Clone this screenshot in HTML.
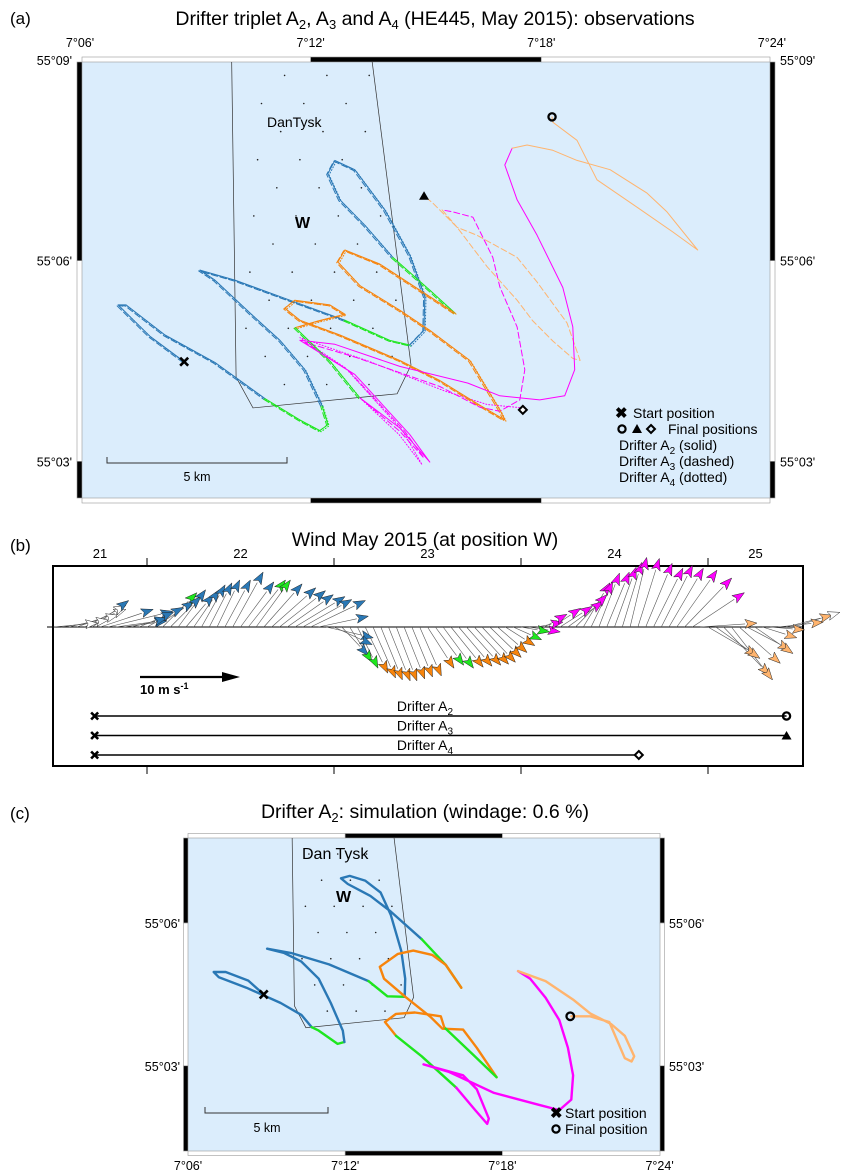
<!DOCTYPE html>
<html><head><meta charset="utf-8"><title>Drifter triplet A2, A3, A4</title>
<style>
html,body{margin:0;padding:0;background:#fff;}
svg{display:block;font-family:"Liberation Sans",Arial,sans-serif;}
</style></head>
<body>
<svg id="fig" xmlns="http://www.w3.org/2000/svg" width="849" height="1173" viewBox="0 0 849 1173">
<defs>
<clipPath id="clipA"><rect x="82" y="62" width="688" height="436"/></clipPath>
<clipPath id="clipC"><rect x="188" y="838" width="472" height="313"/></clipPath>
</defs>

<!-- ================= PANEL A ================= -->
<g id="panelA">
<text x="10" y="24" font-size="17">(a)</text>
<text x="435" y="25" font-size="19.5" text-anchor="middle">Drifter triplet A<tspan font-size="13" dy="4">2</tspan><tspan dy="-4">, A</tspan><tspan font-size="13" dy="4">3</tspan><tspan dy="-4"> and A</tspan><tspan font-size="13" dy="4">4</tspan><tspan dy="-4"> (HE445, May 2015): observations</tspan></text>
<rect x="82" y="62" width="688" height="436" fill="#dbedfc"/>
<g id="frameA"></g>
<g id="polyA" clip-path="url(#clipA)"></g>
<g id="tracksA" clip-path="url(#clipA)"></g>
<g id="markersA"></g>
<text x="267" y="127" font-size="14">DanTysk</text>
<text x="295" y="228" font-size="16" font-weight="bold">W</text>
<g>
<path d="M107 457 V463 H287 V457" fill="none" stroke="#333" stroke-width="1"/>
<text x="197" y="481" font-size="12.5" text-anchor="middle">5 km</text>
</g>
<g font-size="14">
<text x="615" y="418" font-size="15" font-weight="bold">✖</text>
<text x="633" y="418">Start position</text>
<circle cx="622" cy="429" r="3.6" fill="none" stroke="#000" stroke-width="2.2"/>
<path d="M632 433 L637 424 L642 433 Z" fill="#000"/>
<path d="M651 425 L655 429 L651 433 L647 429 Z" fill="none" stroke="#000" stroke-width="2"/>
<text x="668" y="434">Final positions</text>
<text x="619" y="450">Drifter A<tspan font-size="10" dy="4">2</tspan><tspan dy="-4"> (solid)</tspan></text>
<text x="619" y="466">Drifter A<tspan font-size="10" dy="4">3</tspan><tspan dy="-4"> (dashed)</tspan></text>
<text x="619" y="482">Drifter A<tspan font-size="10" dy="4">4</tspan><tspan dy="-4"> (dotted)</tspan></text>
</g>
</g>

<!-- ================= PANEL B ================= -->
<g id="panelB">
<text x="10" y="551" font-size="17">(b)</text>
<text x="425" y="546" font-size="19.5" text-anchor="middle">Wind May 2015 (at position W)</text>
<rect x="53" y="566" width="750" height="200" fill="#fff" stroke="#000" stroke-width="2"/>
<line x1="47" y1="627" x2="803" y2="627" stroke="#000" stroke-width="1"/>
<g id="windAxis" font-size="13"></g>
<g id="windSticks"></g>
<g>
<line x1="140" y1="677" x2="226" y2="677" stroke="#000" stroke-width="2.2"/>
<path d="M222 672 L240 677 L222 682 Z" fill="#000"/>
<text x="140" y="694" font-size="13" font-weight="bold">10 m s<tspan font-size="9" dy="-5">-1</tspan></text>
</g>
<g id="drifterTimes"></g>
</g>

<!-- ================= PANEL C ================= -->
<g id="panelC">
<text x="10" y="819" font-size="17">(c)</text>
<text x="425" y="818" font-size="19.5" text-anchor="middle">Drifter A<tspan font-size="13" dy="4">2</tspan><tspan dy="-4">: simulation (windage: 0.6 %)</tspan></text>
<rect x="188" y="838" width="472" height="313" fill="#dbedfc"/>
<g id="frameC"></g>
<g id="polyC" clip-path="url(#clipC)"></g>
<g id="tracksC" clip-path="url(#clipC)"></g>
<g id="markersC"></g>
<text x="302" y="859" font-size="16">Dan Tysk</text>
<text x="336" y="902" font-size="16" font-weight="bold">W</text>
<g>
<path d="M205 1107 V1113 H328 V1107" fill="none" stroke="#333" stroke-width="1"/>
<text x="267" y="1132" font-size="12.5" text-anchor="middle">5 km</text>
</g>
<g font-size="14">
<text x="550" y="1118" font-size="15" font-weight="bold">✖</text>
<text x="565" y="1118">Start position</text>
<circle cx="556" cy="1129" r="3.6" fill="none" stroke="#000" stroke-width="2.2"/>
<text x="565" y="1134">Final position</text>
</g>
</g>
</svg>

<script>
// ---------------- shared data ----------------
const palette = {b:'#2a78b5', g:'#1ee61e', o:'#f7840c', m:'#ff00ff', l:'#ffb46e', w:'#ffffff'};
const dantyskLon = [9.93,10.06,10.50,14.25,14.61,13.46];
const dantyskLat = [9.6,4.26,3.80,4.01,4.44,9.6];

// ---------------- panel A data (lon/lat minutes) ----------------
const a2Blue1 = [[8.71,4.49],[7.82,4.87],[6.99,5.34],[7.20,5.34],[8.21,4.89],[9.51,4.48],[10.81,3.94]];
const a2Green1 = [[10.81,3.94],[11.72,3.62],[12.24,3.46],[12.45,3.55],[12.29,3.84]];
const a2Blue2 = [[12.29,3.84],[11.85,4.37],[11.20,4.81],[10.42,5.22],[9.51,5.71],[9.12,5.86],[10.03,5.71],[11.46,5.41],[12.89,5.11]];
const a2Green2 = [[12.89,5.11],[14.06,4.81],[14.58,4.74]];
const a2Blue3 = [[14.58,4.74],[14.95,4.96],[14.97,5.46],[14.58,6.08],[13.93,6.76],[13.15,7.36],[12.63,7.50],[12.45,7.30],[12.76,6.91],[13.41,6.53],[14.14,6.05]];
const a2Green3 = [[14.14,6.05],[15.10,5.56],[15.75,5.22]];
const a2Orange = [[15.75,5.22],[14.84,5.56],[13.80,5.95],[12.89,6.16],[12.71,5.98],[13.28,5.63],[14.32,5.26],[15.10,4.96],[16.14,4.51],[16.92,3.77],[17.05,3.62],[16.40,3.84],[15.36,4.21],[14.32,4.51],[12.76,4.89],[11.72,5.11],[11.33,5.29],[11.59,5.41],[12.50,5.34],[12.89,5.20],[12.20,5.10],[11.60,5.00]];
const a2Green4 = [[11.60,5.00],[12.50,4.50],[13.28,3.95]];
const a2Magenta = [[13.28,3.95],[14.32,3.50],[15.10,2.99],[14.58,3.40],[13.15,4.30],[11.72,4.81],[12.63,4.75],[14.32,4.42],[16.09,4.17],[16.92,3.98],[17.96,3.92],[18.61,3.98],[18.87,4.37],[18.82,5.01],[18.56,5.60],[17.89,6.38],[17.37,6.91],[17.05,7.43],[17.24,7.68]];
const a2Light = [[17.24,7.68],[17.63,7.73],[18.30,7.65],[18.93,7.50],[19.79,7.36],[20.75,7.01],[21.27,6.73],[22.07,6.16],[21.42,6.43],[20.49,6.80],[19.45,7.21],[18.93,7.80],[18.30,8.07],[18.28,8.15]];
const a3Magenta = [[13.28,3.95],[14.32,3.45],[14.95,3.05],[14.45,3.45],[13.00,4.35],[11.85,4.78],[13.20,4.55],[15.36,4.12],[16.40,3.81],[16.92,3.75],[17.44,3.92],[17.57,4.37],[17.37,5.01],[16.92,5.61],[16.74,6.05],[16.22,6.65],[15.70,6.73],[15.42,6.76]];
const a3Light = [[15.42,6.76],[15.81,6.50],[16.33,6.38],[17.37,6.05],[17.89,5.68],[18.67,5.07],[19.01,4.51],[18.82,4.54],[18.30,4.80],[17.78,5.10],[17.37,5.41],[16.59,5.91],[15.81,6.50],[15.18,6.86],[14.95,6.97]];
const a4Magenta = [[13.28,3.95],[14.30,3.40],[14.90,2.95],[14.40,3.45],[12.90,4.40],[11.72,4.85],[13.50,4.50],[15.50,4.05],[16.59,3.85],[17.52,3.80]];
const startA = [8.71,4.49];
const finalA2 = [18.28,8.15];
const finalA3 = [14.95,6.97];
const finalA4 = [17.52,3.77];
const lonTicks = [6,12,18,24];
const lonTickLabels = ["7°06'","7°12'","7°18'","7°24'"];
const latTicksA = [9,6,3];
const latTickLabelsA = ["55°09'","55°06'","55°03'"];

// ---------------- panel B data ----------------
const windStartDay = 21.5;
const windU = [4.5,4.8,5.0,5.0,4.2,3.7,5.4,6.6,5.2,4.4,3.6,3.5,3.7,4.0,3.5,3.1,2.8,2.8,2.6,2.4,2.3,2.3,2.6,3.1,3.4,3.8,3.5,3.9,4.5,4.7,4.7,5.1,5.0,5.6,5.1,
 4.8,3.9,2.7,2.3,2.1,2.3,2.3,2.2,2.2,2.1,2.1,2.1,2.2,2.7,2.9,3.1,3.3,3.4,3.5,3.5,3.4,3.2,3.0,3.0,2.9,2.9,
 3.2,2.7,2.3,2.9,3.3,3.6,3.2,2.7,2.2,2.1,2.3,2.2,2.0,1.7,2.2,2.7,3.0,3.2,3.5,4.1,4.8,5.3,
 5.8,5.0,4.5,4.7,4.2,4.2,4.4,3.9,3.5,3.5,4.6,4.7,4.7];
const windV = [0.4,0.7,1.2,1.8,2.2,2.7,1.8,1.6,0.7,0.6,0.9,1.5,2.0,2.6,3.5,3.1,3.8,3.3,3.8,4.3,4.5,4.8,4.8,5.6,4.6,4.8,4.8,4.4,4.0,3.7,3.3,3.1,2.8,2.7,1.1,
 -1.1,-1.8,-2.9,-3.6,-4.2,-4.7,-5.2,-5.4,-5.5,-5.5,-5.3,-5.1,-5.0,-4.2,-3.9,-4.2,-4.1,-4.0,-3.9,-3.8,-3.6,-3.1,-2.6,-1.9,-1.3,-0.5,
 -0.5,0.5,1.3,1.9,2.1,2.6,3.3,4.5,4.6,5.5,5.6,6.1,6.6,7.1,7.0,6.5,6.0,6.3,6.0,5.8,5.0,3.5,
 0.4,-2.9,-3.2,-4.9,-5.4,-3.7,-2.3,-2.7,-1.1,-0.3,0.5,1.2,1.5];
const windPhase = "wwwwwbbbbbbbbbgbbbbbbbbbbggbbbbbbbbbbbggooooooooogg"+"oooooooogg"+"mmmmmmmmmmmmmmmmmmmmmm"+"llllllllllllw";
const dayLabels = ["21","22","23","24","25"];
const dayTicks = [22,23,24,25];
const drifterNames = ["2","3","4"];
const drifterStart = [21.72,21.72,21.72];
const drifterEnd = [25.42,25.42,24.63];
const drifterEndMarker = ["circle","triangle","diamond"];

// ---------------- panel C data ----------------
const cBlue1 = [[8.89,4.50],[8.30,4.79],[7.44,4.97],[6.98,4.97],[7.18,4.86],[8.23,4.64],[9.54,4.32],[10.33,4.07],[10.72,3.81]];
const cGreen1 = [[10.72,3.81],[10.99,3.74],[11.71,3.46],[11.97,3.50]];
const cBlue2 = [[11.97,3.50],[11.91,3.74],[11.45,4.32],[10.99,4.83],[10.33,5.19],[9.67,5.37],[9.02,5.46],[9.94,5.37],[11.38,5.13],[12.89,4.78]];
const cGreen2 = [[12.89,4.78],[13.61,4.46],[14.27,4.45]];
const cBlue3 = [[14.27,4.45],[14.29,4.83],[14.14,5.41],[13.74,6.17],[13.35,6.64],[12.76,6.89],[12.17,6.99],[11.84,6.94],[12.10,6.82],[12.96,6.57],[13.74,6.24],[14.92,5.66]];
const cGreen3 = [[14.92,5.66],[15.84,5.12],[16.43,4.64]];
const cOrange1 = [[16.43,4.64],[15.84,5.12],[15.32,5.33],[14.60,5.42],[14.01,5.35],[13.32,5.08],[13.48,4.83],[14.27,4.46],[15.25,4.03],[15.71,3.78],[16.50,3.76],[17.02,3.38],[17.78,2.76]];
const cGreen4 = [[17.78,2.76],[16.89,3.23],[15.78,3.81]];
const cOrange2 = [[15.78,3.81],[15.65,4.04],[14.66,4.12],[13.94,4.09],[13.52,3.92],[13.94,3.63]];
const cGreen5 = [[13.94,3.63],[14.92,3.20],[16.24,2.54]];
const cMagenta = [[16.24,2.54],[16.96,2.07],[17.42,1.78],[17.48,1.89],[17.02,2.51],[16.50,2.80],[15.32,2.98],[14.99,3.03],[15.97,2.87],[17.68,2.43],[19.39,2.18],[20.17,2.07],[20.63,2.29],[20.70,2.80],[20.50,3.38],[20.17,3.96],[19.65,4.43],[19.06,4.83],[18.60,4.99]];
const cLight = [[18.60,4.99],[19.65,4.78],[20.70,4.39],[21.35,4.10],[22.14,3.88],[22.67,3.63],[23.03,3.20],[22.93,3.09],[22.67,3.16],[22.08,3.92],[21.35,4.04],[20.63,4.04]];
const startC = [8.89,4.50];
const finalC = [20.59,4.04];
const latTicksC = [6,3];
const latTickLabelsC = ["55°06'","55°03'"];

// ---------------- helpers ----------------
const NS = 'http://www.w3.org/2000/svg';
function mk(tag, attrs, parent){
  const e = document.createElementNS(NS, tag);
  for (const k in attrs) e.setAttribute(k, attrs[k]);
  parent.appendChild(e);
  return e;
}
const axA = lon => 80 + (lon - 6) * 38.44;
const ayA = lat => 60 + (9 - lat) * 66.9;
const axC = lon => 188 + (lon - 6) * 26.2;
const ayC = lat => 923 + (6 - lat) * 47.6;
const bx = t => 147 + (t - 22) * 187;
const by0 = 627, windScale = 9.8;

function frame(g, x0, y0, x1, y1, xs, ys, w){
  const segsX = [x0].concat(xs).concat([x1]);
  const segsY = [y0].concat(ys).concat([y1]);
  for (let i = 0; i < segsX.length - 1; i++){
    const fill = (i % 2 === 1) ? '#000' : '#fff';
    let r = mk('rect', {x:segsX[i], y:y0-w, width:segsX[i+1]-segsX[i], height:w, fill:fill, stroke:'#999', 'stroke-width':0.6}, g);
    
    
    r = mk('rect', {x:segsX[i], y:y1, width:segsX[i+1]-segsX[i], height:w, fill:fill, stroke:'#999', 'stroke-width':0.6}, g);
    
    
  }
  for (let i = 0; i < segsY.length - 1; i++){
    const fill = (i % 2 === 0) ? '#000' : '#fff';
    let r = mk('rect', {x:x0-w, y:segsY[i], width:w, height:segsY[i+1]-segsY[i], fill:fill, stroke:'#999', 'stroke-width':0.6}, g);
    
    
    r = mk('rect', {x:x1, y:segsY[i], width:w, height:segsY[i+1]-segsY[i], fill:fill, stroke:'#999', 'stroke-width':0.6}, g);
    
    
  }
}

function track(g, pts, color, fx, fy, width, dash, dx, dy, name){
  const d = pts.map((p,i)=>(i?'L':'M')+(fx(p[0])+dx).toFixed(1)+' '+(fy(p[1])+dy).toFixed(1)).join(' ');
  const attrs = {d:d, fill:'none', stroke:palette[color], 'stroke-width':width, 'stroke-linejoin':'round', 'stroke-linecap':'round'};
  if (dash) attrs['stroke-dasharray'] = dash;
  const p = mk('path', attrs, g);
  
  
}

function marker(g, type, x, y, s){
  let e;
  if (type === 'x'){
    e = mk('path', {d:`M${x-s} ${y-s} L${x+s} ${y+s} M${x+s} ${y-s} L${x-s} ${y+s}`, stroke:'#000', 'stroke-width':2.6, fill:'none'}, g);
    
  } else if (type === 'circle'){
    e = mk('circle', {cx:x, cy:y, r:s*0.9, fill:'none', stroke:'#000', 'stroke-width':2.3}, g);
    
  } else if (type === 'triangle'){
    e = mk('path', {d:`M${x-s} ${y+s*0.8} L${x} ${y-s*0.9} L${x+s} ${y+s*0.8} Z`, fill:'#000'}, g);
    
  } else {
    e = mk('path', {d:`M${x} ${y-s} L${x+s} ${y} L${x} ${y+s} L${x-s} ${y} Z`, fill:'#fff', stroke:'#000', 'stroke-width':2}, g);
    
  }
  
}

function windfarm(g, fx, fy, step){
  const d = dantyskLon.map((lo,i)=>(i?'L':'M')+fx(lo).toFixed(1)+' '+fy(dantyskLat[i]).toFixed(1)).join(' ');
  const p = mk('path', {d:d, fill:'none', stroke:'#333', 'stroke-width':0.7}, g);
  
  
  const poly = dantyskLon.map((lo,i)=>[fx(lo), fy(dantyskLat[i])]);
  function inside(x,y){
    let c=false;
    for (let i=0,j=poly.length-1;i<poly.length;j=i++){
      const xi=poly[i][0], yi=poly[i][1], xj=poly[j][0], yj=poly[j][1];
      if (((yi>y)!==(yj>y)) && (x < (xj-xi)*(y-yi)/(yj-yi)+xi)) c=!c;
    }
    return c;
  }
  let row = 0;
  for (let la = 4.15; la < 8.9; la += step[1], row++){
    for (let lo = 10.2 + (row % 2) * step[0] / 2; lo < 14.6; lo += step[0]){
      const x = fx(lo + (la-4)*0.12), y = fy(la);
      if (inside(x-3,y) && inside(x+3,y)){
        const c = mk('circle', {cx:x.toFixed(1), cy:y.toFixed(1), r:0.8, fill:'#222'}, g);
        
        
      }
    }
  }
}

// ---------------- PANEL A ----------------
(function(){
  const fg = document.getElementById('frameA');
  frame(fg, 82, 62, 770, 498, [axA(12), axA(18)], [ayA(6), ayA(3)], 5);
  lonTicks.forEach((lo,i)=>{
    const t = mk('text', {x:axA(lo), y:47, 'font-size':12.5, 'text-anchor':'middle'}, fg);
    t.textContent = lonTickLabels[i];
    
    
  });
  latTicksA.forEach((la,i)=>{
    let t = mk('text', {x:72, y:ayA(la)+5, 'font-size':12.5, 'text-anchor':'end'}, fg);
    t.textContent = latTickLabelsA[i];
    
    
    t = mk('text', {x:780, y:ayA(la)+5, 'font-size':12.5}, fg);
    t.textContent = latTickLabelsA[i];
    
    
  });
  windfarm(document.getElementById('polyA'), axA, ayA, [1.1, 0.42]);

  const g = document.getElementById('tracksA');
  const common = [[a2Blue1,'b'],[a2Green1,'g'],[a2Blue2,'b'],[a2Green2,'g'],[a2Blue3,'b'],[a2Green3,'g'],[a2Orange,'o'],[a2Green4,'g']];
  common.forEach(s=>track(g, s[0], s[1], axA, ayA, 1, '1 2', 1.2, 1.2, 'a4-track-segment'));
  track(g, a4Magenta, 'm', axA, ayA, 1, '1 2', 0, 0, 'a4-track-segment');
  common.forEach(s=>track(g, s[0], s[1], axA, ayA, 1, '6 3', -1.2, 0.8, 'a3-track-segment'));
  track(g, a3Magenta, 'm', axA, ayA, 1, '6 3', 0, 0, 'a3-track-segment');
  track(g, a3Light, 'l', axA, ayA, 1, '6 3', 0, 0, 'a3-track-segment');
  common.forEach(s=>track(g, s[0], s[1], axA, ayA, 1, null, 0, 0, 'a2-track-segment'));
  track(g, a2Magenta, 'm', axA, ayA, 1, null, 0, 0, 'a2-track-segment');
  track(g, a2Light, 'l', axA, ayA, 1, null, 0, 0, 'a2-track-segment');

  const mg = document.getElementById('markersA');
  marker(mg, 'x', axA(startA[0]), ayA(startA[1]), 4);
  marker(mg, 'circle', axA(finalA2[0]), ayA(finalA2[1]), 4);
  marker(mg, 'triangle', axA(finalA3[0]), ayA(finalA3[1]), 5);
  marker(mg, 'diamond', axA(finalA4[0]), ayA(finalA4[1]), 4);
})();

// ---------------- PANEL B ----------------
(function(){
  const ag = document.getElementById('windAxis');
  dayTicks.forEach(d=>{
    let l = mk('line', {x1:bx(d), y1:566, x2:bx(d), y2:558, stroke:'#000', 'stroke-width':1}, ag);
    
    
    l = mk('line', {x1:bx(d), y1:766, x2:bx(d), y2:774, stroke:'#000', 'stroke-width':1}, ag);
    
    
  });
  dayLabels.forEach((lab,i)=>{
    const d = 21 + i;
    const lo = Math.max(d, (53 - 147)/187 + 22), hi = Math.min(d+1, (803-147)/187 + 22);
    const t = mk('text', {x:bx((lo+hi)/2), y:558, 'text-anchor':'middle'}, ag);
    t.textContent = lab;
    
    
  });

  const g = document.getElementById('windSticks');
  const lines = mk('g', {}, g);
  
  
  const heads = mk('g', {}, g);
  
  
  for (let i = 0; i < windU.length; i++){
    const t = windStartDay + i / 24;
    const x0 = bx(t), y0 = by0;
    const x1 = x0 + windU[i] * windScale, y1 = y0 - windV[i] * windScale;
    const L = Math.hypot(x1-x0, y1-y0) || 1;
    const ux = (x1-x0)/L, uy = (y1-y0)/L;
    const hl = 12, hw = 4.5;
    const bxp = x1 - ux*hl, byp = y1 - uy*hl;
    const ln = mk('line', {x1:x0.toFixed(1), y1:y0, x2:bxp.toFixed(1), y2:byp.toFixed(1), stroke:'#555', 'stroke-width':0.6}, lines);
    
    
    const ph = windPhase[i] || 'w';
    const pts = [[x1,y1],[bxp - uy*hw, byp + ux*hw],[bxp + ux*2.5, byp + uy*2.5],[bxp + uy*hw, byp - ux*hw]];
    const hd = mk('path', {d:'M'+pts.map(p=>p[0].toFixed(1)+' '+p[1].toFixed(1)).join(' L')+' Z', fill:palette[ph], stroke:'#222', 'stroke-width':0.5}, heads);
    
    
  }

  const dg = document.getElementById('drifterTimes');
  drifterNames.forEach((n,i)=>{
    const y = 716 + i * 19.5;
    const x0 = bx(drifterStart[i]), x1 = bx(drifterEnd[i]);
    const ln = mk('line', {x1:x0, y1:y, x2:x1, y2:y, stroke:'#000', 'stroke-width':1.5}, dg);
    
    
    const t = mk('text', {x:425, y:y-5, 'font-size':14, 'text-anchor':'middle'}, dg);
    t.innerHTML = 'Drifter A<tspan font-size="10" dy="4">'+n+'</tspan>';
    
    
    marker(dg, 'x', x0, y, 3.5);
    marker(dg, drifterEndMarker[i], x1, y, drifterEndMarker[i]==='triangle'?5:4);
  });
})();

// ---------------- PANEL C ----------------
(function(){
  const fg = document.getElementById('frameC');
  frame(fg, 188, 838, 660, 1151, [axC(12), axC(18)], [ayC(6), ayC(3)], 4.5);
  lonTicks.forEach((lo,i)=>{
    const t = mk('text', {x:axC(lo), y:1170, 'font-size':12.5, 'text-anchor':'middle'}, fg);
    t.textContent = lonTickLabels[i];
    
    
  });
  latTicksC.forEach((la,i)=>{
    let t = mk('text', {x:180, y:ayC(la)+5, 'font-size':12.5, 'text-anchor':'end'}, fg);
    t.textContent = latTickLabelsC[i];
    
    
    t = mk('text', {x:669, y:ayC(la)+5, 'font-size':12.5}, fg);
    t.textContent = latTickLabelsC[i];
    
    
  });
  windfarm(document.getElementById('polyC'), axC, ayC, [1.1, 0.55]);
  const g = document.getElementById('tracksC');
  [[cBlue1,'b'],[cGreen1,'g'],[cBlue2,'b'],[cGreen2,'g'],[cBlue3,'b'],[cGreen3,'g'],[cOrange1,'o'],[cGreen4,'g'],[cOrange2,'o'],[cGreen5,'g'],[cMagenta,'m'],[cLight,'l']]
    .forEach(s=>track(g, s[0], s[1], axC, ayC, 2.4, null, 0, 0, 'simulated-track-segment'));
  const mg = document.getElementById('markersC');
  marker(mg, 'x', axC(startC[0]), ayC(startC[1]), 4);
  marker(mg, 'circle', axC(finalC[0]), ayC(finalC[1]), 4.2);
})();
</script>
</body></html>
